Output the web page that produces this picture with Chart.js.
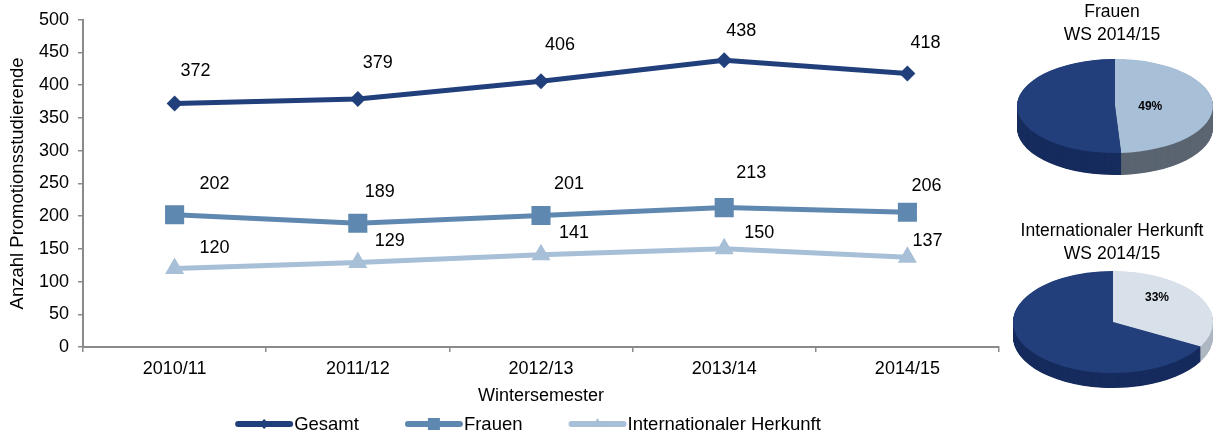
<!DOCTYPE html>
<html>
<head>
<meta charset="utf-8">
<script src="https://cdn.jsdelivr.net/npm/chart.js@4/dist/chart.umd.min.js"></script>
<style>
  html, body { margin: 0; padding: 0; background: #ffffff; }
  #wrap { position: relative; width: 1219px; height: 437px; overflow: hidden; }
  canvas { position: absolute; }
</style>
</head>
<body>
<div id="wrap">
  <canvas id="main" width="1219" height="437" style="left:0;top:0;"></canvas>
  <canvas id="pie1" width="214" height="200" style="left:1005px;top:0;"></canvas>
  <canvas id="pie2" width="214" height="200" style="left:1005px;top:219px;"></canvas>
</div>
<script>
// ---------- data ----------
const categories = ['2010/11', '2011/12', '2012/13', '2013/14', '2014/15'];
const seriesNames = ['Gesamt', 'Frauen', 'Internationaler Herkunft'];
const gesamt = [372, 379, 406, 438, 418];
const frauen = [202, 189, 201, 213, 206];
const international = [120, 129, 141, 150, 137];
const yTicks = [0, 50, 100, 150, 200, 250, 300, 350, 400, 450, 500];
const yTitle = 'Anzahl Promotionsstudierende';
const xTitle = 'Wintersemester';

const pieFrauenTitle = ['Frauen', 'WS 2014/15'];
const pieFrauenValues = [49, 51];
const pieIntTitle = ['Internationaler Herkunft', 'WS 2014/15'];
const pieIntValues = [33, 67];

// ---------- styles ----------
const FONT = '"Liberation Sans", Arial, Helvetica, sans-serif';
const C_GES = '#213f7b';
const C_FRA = '#5f88b0';
const C_INT = '#a7bfd7';
// label offsets (px) relative to each point, per series
const LABEL_OFFSETS = [
  [[21, -33], [20, -36], [19, -36], [17, -29], [18, -30]],
  [[40, -31], [22, -31], [28, -31], [27, -35], [19, -26]],
  [[40, -20], [32, -22], [33, -22], [35, -16], [20, -16]]
];

const valueLabels = {
  id: 'valueLabels',
  afterDatasetsDraw(chart) {
    const ctx = chart.ctx;
    ctx.save();
    ctx.font = '18px ' + FONT;
    ctx.fillStyle = '#000';
    ctx.textAlign = 'center';
    ctx.textBaseline = 'middle';
    chart.data.datasets.forEach((ds, di) => {
      const meta = chart.getDatasetMeta(di);
      meta.data.forEach((pt, i) => {
        const off = LABEL_OFFSETS[di][i];
        ctx.fillText(String(ds.data[i]), pt.x + off[0], pt.y + off[1]);
      });
    });
    ctx.restore();
  }
};

const customLegend = {
  id: 'customLegend',
  afterDraw(chart, args, opts) {
    const ctx = chart.ctx;
    ctx.save();
    ctx.font = '18.5px ' + FONT;
    const lineLen = 58, gapText = 1, gapItem = 46;
    const items = chart.data.datasets.map(ds => ({
      ds, w: lineLen + gapText + ctx.measureText(ds.label).width
    }));
    const total = items.reduce((s, it) => s + it.w, 0) + gapItem * (items.length - 1);
    let x = opts.centerX - total / 2;
    const y = opts.y;
    items.forEach(it => {
      const ds = it.ds;
      ctx.strokeStyle = ds.borderColor;
      ctx.lineWidth = 6;
      ctx.lineCap = 'round';
      ctx.beginPath();
      ctx.moveTo(x + 3, y);
      ctx.lineTo(x + lineLen - 3, y);
      ctx.stroke();
      ctx.fillStyle = ds.borderColor;
      ctx.strokeStyle = ds.borderColor;
      Chart.helpers.drawPoint(ctx, {
        pointStyle: ds.pointStyle, rotation: 0,
        radius: ds.legendRadius, borderWidth: 0
      }, x + lineLen / 2, y);
      ctx.fillStyle = '#000';
      ctx.textAlign = 'left';
      ctx.textBaseline = 'middle';
      ctx.fillText(ds.label, x + lineLen + gapText, y + 1);
      x += it.w + gapItem;
    });
    ctx.restore();
  }
};

new Chart(document.getElementById('main'), {
  type: 'line',
  data: {
    labels: categories,
    datasets: [
      { label: seriesNames[0], data: gesamt, borderColor: C_GES, backgroundColor: C_GES,
        pointStyle: 'rectRot', pointRadius: 8, pointBorderWidth: 0, borderWidth: 5, legendRadius: 5 },
      { label: seriesNames[1], data: frauen, borderColor: C_FRA, backgroundColor: C_FRA,
        pointStyle: 'rect', pointRadius: 13.5, pointBorderWidth: 0, borderWidth: 5, legendRadius: 8.5 },
      { label: seriesNames[2], data: international, borderColor: C_INT, backgroundColor: C_INT,
        pointStyle: 'triangle', pointRadius: 11, pointBorderWidth: 0, borderWidth: 5, legendRadius: 6 }
    ]
  },
  options: {
    responsive: false,
    animation: false,
    events: [],
    layout: { padding: { top: 19, right: 220, bottom: 0, left: 0 } },
    elements: { line: { tension: 0 } },
    plugins: {
      legend: { display: false },
      tooltip: { enabled: false },
      customLegend: { centerX: 528, y: 424 }
    },
    scales: {
      x: {
        offset: true,
        grid: { offset: true, drawOnChartArea: false, drawTicks: true, tickLength: 5, color: '#8a8a8a', lineWidth: 1.5 },
        border: { display: true, color: '#8a8a8a', width: 2 },
        ticks: { color: '#000', font: { family: FONT, size: 18 }, padding: 6, maxRotation: 0 },
        title: { display: true, text: xTitle, color: '#000', font: { family: FONT, size: 18 }, padding: { top: 0, bottom: 30 } },
        afterFit: s => { s.height = 90; }
      },
      y: {
        min: 0, max: 500,
        afterBuildTicks: s => { s.ticks = yTicks.map(v => ({ value: v })); },
        grid: { drawOnChartArea: false, drawTicks: true, tickLength: 5, color: '#8a8a8a', lineWidth: 1.5 },
        border: { display: true, color: '#8a8a8a', width: 2 },
        ticks: { color: '#000', font: { family: FONT, size: 18 }, padding: 9 },
        title: { display: true, text: yTitle, color: '#000', font: { family: FONT, size: 18.5 }, padding: { top: 7, bottom: 0 } },
        afterFit: s => { s.width = 83; }
      }
    }
  },
  plugins: [valueLabels, customLegend]
});

// ---------- 3D pies ----------
const pie3d = {
  id: 'pie3d',
  beforeDatasetsDraw(chart, args, opts) {
    const arcs = chart.getDatasetMeta(0).data;
    const a0 = arcs[0];
    const R = a0.outerRadius;
    const sx = opts.rx / R, sy = opts.ry / R;
    const ctx = chart.ctx;
    ctx.save();
    ctx.translate(opts.cx, opts.cy);
    ctx.scale(sx, sy);
    ctx.translate(-a0.x, -a0.y);
    for (let d = opts.depth; d >= 0.5; d -= 0.5) {
      arcs.forEach((arc, i) => {
        ctx.beginPath();
        ctx.moveTo(arc.x, arc.y + d / sy);
        ctx.arc(arc.x, arc.y + d / sy, arc.outerRadius, arc.startAngle, arc.endAngle);
        ctx.closePath();
        ctx.fillStyle = opts.sideColors[i];
        ctx.fill();
      });
    }
  },
  afterDatasetsDraw(chart, args, opts) {
    const ctx = chart.ctx;
    ctx.restore();
    ctx.save();
    ctx.font = 'bold 12px ' + FONT;
    ctx.fillStyle = '#000';
    ctx.textAlign = 'center';
    ctx.textBaseline = 'middle';
    const v = chart.data.datasets[0].data[0];
    ctx.fillText(v + '%', opts.cx + opts.lx * opts.rx, opts.cy + opts.ly * opts.ry);
    ctx.restore();
  }
};

function makePie(id, title, values, colors, sideColors, geo) {
  new Chart(document.getElementById(id), {
    type: 'pie',
    data: {
      labels: ['a', 'b'],
      datasets: [{ data: values, backgroundColor: colors, borderWidth: 0 }]
    },
    options: {
      responsive: false,
      animation: false,
      events: [],
      plugins: {
        legend: { display: false },
        tooltip: { enabled: false },
        title: {
          display: true, text: title, color: '#000',
          font: { family: FONT, size: 17.5, weight: 'normal', lineHeight: 1.3 },
          padding: { top: 1, bottom: 4 }
        },
        pie3d: Object.assign({ sideColors }, geo)
      }
    },
    plugins: [pie3d]
  });
}

makePie('pie1', pieFrauenTitle, pieFrauenValues, ['#a8bfd8', '#223f7c'], ['#5b6571', '#172c5e'],
  { cx: 110, cy: 106, rx: 98, ry: 47, depth: 22, lx: 0.36, ly: 0.02 });
makePie('pie2', pieIntTitle, pieIntValues, ['#d8e0ea', '#223f7c'], ['#aeb6c2', '#172c5e'],
  { cx: 108, cy: 103, rx: 100, ry: 51, depth: 15, lx: 0.44, ly: -0.48 });
</script>
</body>
</html>
